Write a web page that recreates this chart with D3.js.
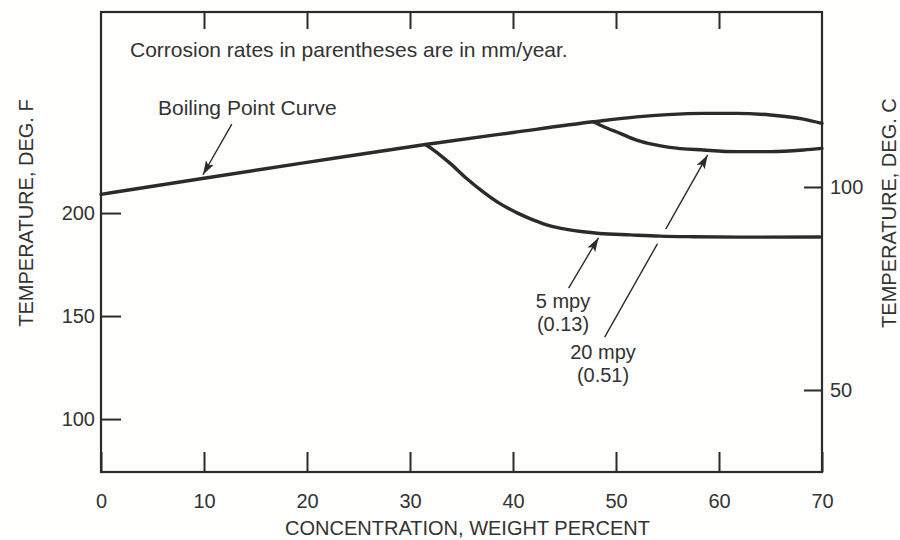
<!DOCTYPE html>
<html>
<head>
<meta charset="utf-8">
<script src="https://cdn.jsdelivr.net/npm/d3@7"></script>
<style>
  html, body { margin: 0; padding: 0; background: #fefefc; }
  svg { display: block; }
  text { font-family: "Liberation Sans", Arial, Helvetica, sans-serif; fill: #333; }
</style>
</head>
<body>
<svg id="chart" width="900" height="540"></svg>
<script>
// Concentration (weight %) and temperature (deg F) along each curve
const boilingX = [0, 10, 20, 31.5, 40, 47.8, 52, 55, 58.4, 61.7, 65, 68.2, 70];
const boilingF = [209.1, 216.9, 224.6, 233.3, 239.1, 244.3, 246.7, 247.8, 248.4, 248.4, 247.6, 245.6, 243.5];

const mpy20X = [47.8, 48.8, 50.4, 52.0, 53.6, 55.2, 58.5, 61.7, 65.0, 68.2, 70];
const mpy20F = [244.3, 241.9, 238.7, 235.4, 233.3, 231.9, 230.6, 229.8, 229.8, 230.6, 231.4];

const mpy5X = [31.5, 32.3, 33.9, 35.5, 37.1, 38.7, 40.4, 42.0, 43.6, 45.2, 46.8, 48.4, 51.4, 54.3, 57.5, 62.0, 69.8];
const mpy5F = [233.3, 230.6, 224.1, 216.8, 210.3, 204.7, 200.1, 196.6, 193.8, 192.1, 190.9, 190.1, 189.4, 188.8, 188.5, 188.3, 188.4];

// Axis extents and tick values
const xDomain = [0, 70];
const fDomain = [74.3, 297.6];
const cDomain = [29.8, 143.1];
const xTicks = [0, 10, 20, 30, 40, 50, 60, 70];
const xTopTicks = [10, 20, 30, 40, 50, 60];
const fTicks = [100, 150, 200];
const cTicks = [50, 100];

// Annotation arrows: [tailX, tailF, tipX, tipF]
const arrowBoiling = [12.7, 243.2, 9.9, 218.6];
const arrow5 = [45.4, 163.6, 48.3, 188.0];
const arrow20 = [48.9, 139.8, 58.9, 228.2];

const svg = d3.select("#chart");
const plot = { left: 101, right: 822, top: 12, bottom: 472 };

const x = d3.scaleLinear().domain(xDomain).range([plot.left, plot.right]);
const yF = d3.scaleLinear().domain(fDomain).range([plot.bottom, plot.top]);
const yC = d3.scaleLinear().domain(cDomain).range([plot.bottom, plot.top]);

const ink = "#2b2b2b";
const paper = "#fefefc";

// Arrowhead marker
svg.append("defs").append("marker")
  .attr("id", "head")
  .attr("markerUnits", "userSpaceOnUse")
  .attr("markerWidth", 16).attr("markerHeight", 10)
  .attr("refX", 14).attr("refY", 4.5)
  .attr("orient", "auto")
  .append("path")
  .attr("d", "M0,0 L14,4.5 L0,9 L3,4.5 Z")
  .attr("fill", ink);

// Axes
const styleAxis = g => {
  g.select(".domain").remove();
  g.selectAll(".tick line").attr("stroke", ink).attr("stroke-width", 2);
  g.selectAll(".tick text").style("font-size", "20px").attr("fill", "#333");
};

svg.append("g").attr("transform", `translate(0,${plot.bottom})`)
  .call(d3.axisBottom(x).tickValues(xTicks).tickSize(-20).tickPadding(22))
  .call(styleAxis);

svg.append("g").attr("transform", `translate(0,${plot.top})`)
  .call(d3.axisTop(x).tickValues(xTopTicks).tickSize(-17).tickFormat(""))
  .call(styleAxis);

svg.append("g").attr("transform", `translate(${plot.left},0)`)
  .call(d3.axisLeft(yF).tickValues(fTicks).tickSize(-20).tickPadding(6))
  .call(styleAxis);

svg.append("g").attr("transform", `translate(${plot.right},0)`)
  .call(d3.axisRight(yC).tickValues(cTicks).tickSize(-18).tickPadding(8))
  .call(styleAxis);

// Frame
svg.append("rect")
  .attr("x", plot.left).attr("y", plot.top)
  .attr("width", plot.right - plot.left).attr("height", plot.bottom - plot.top)
  .attr("fill", "none").attr("stroke", ink).attr("stroke-width", 2.2);

// Axis titles
svg.append("text")
  .attr("x", (plot.left + plot.right) / 2 + 6).attr("y", 535)
  .attr("text-anchor", "middle").style("font-size", "20px")
  .text("CONCENTRATION, WEIGHT PERCENT");

svg.append("text")
  .attr("transform", `translate(33,${yF(200)}) rotate(-90)`)
  .attr("text-anchor", "middle").style("font-size", "20px")
  .text("TEMPERATURE, DEG. F");

svg.append("text")
  .attr("transform", `translate(896,${yF(200)}) rotate(-90)`)
  .attr("text-anchor", "middle").style("font-size", "20px")
  .text("TEMPERATURE, DEG. C");

// Annotation arrows (drawn under the curves)
const drawArrow = a => svg.append("line")
  .attr("x1", x(a[0])).attr("y1", yF(a[1]))
  .attr("x2", x(a[2])).attr("y2", yF(a[3]))
  .attr("stroke", ink).attr("stroke-width", 1.4)
  .attr("marker-end", "url(#head)");
drawArrow(arrowBoiling);
drawArrow(arrow5);
drawArrow(arrow20);

const line = d3.line()
  .x(d => x(d[0])).y(d => yF(d[1]))
  .curve(d3.curveMonotoneX);

const pts = (xs, fs) => xs.map((v, i) => [v, fs[i]]);

// Gap where the 20 mpy leader crosses the 5 mpy curve
svg.append("path")
  .datum(pts(mpy5X, mpy5F).filter(d => d[0] >= 51))
  .attr("d", line)
  .attr("fill", "none").attr("stroke", paper).attr("stroke-width", 15);

// Curves
[[boilingX, boilingF], [mpy20X, mpy20F], [mpy5X, mpy5F]].forEach(([xs, fs]) => {
  svg.append("path")
    .datum(pts(xs, fs))
    .attr("d", line)
    .attr("fill", "none")
    .attr("stroke", ink)
    .attr("stroke-width", 3.4)
    .attr("stroke-linecap", "round")
    .attr("stroke-linejoin", "round");
});

// Text annotations
svg.append("text")
  .attr("x", 130).attr("y", 57).style("font-size", "21px")
  .text("Corrosion rates in parentheses are in mm/year.");

svg.append("text")
  .attr("x", 158).attr("y", 115).style("font-size", "21px")
  .text("Boiling Point Curve");

const label = (cx, lines, firstBaseline) => {
  lines.forEach((s, i) => svg.append("text")
    .attr("text-anchor", "middle").style("font-size", "20px")
    .attr("x", cx).attr("y", firstBaseline + i * 23).text(s));
};
label(563, ["5 mpy", "(0.13)"], 308);
label(603, ["20 mpy", "(0.51)"], 359);
</script>
</body>
</html>
